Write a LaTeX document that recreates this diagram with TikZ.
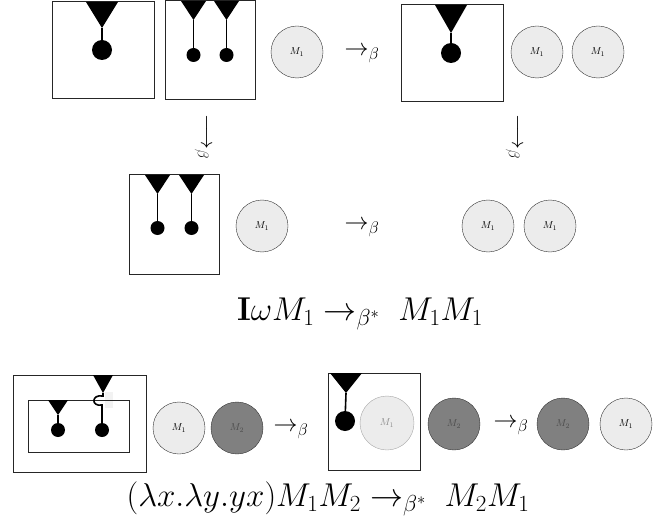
\RequirePackage{fix-cm}
\documentclass[tikz,border=0pt]{standalone}
\usepackage{amsmath,amssymb}
\usetikzlibrary{positioning,calc,arrows.meta}
\definecolor{termfill}{HTML}{ECECEC}
\definecolor{argfill}{HTML}{808080}
\begin{document}
\begin{tikzpicture}[x=1pt, y=-1pt,
  every node/.style={align=center, inner sep=0pt},
  frame/.style={rectangle, draw=black!85, line width=1pt},
  bigball/.style={circle, fill=black, minimum size=20pt},
  smallball/.style={circle, fill=black, minimum size=14pt},
  stem/.style={line width=1.6pt},
  term/.style={circle, draw=black!80, fill=termfill, minimum size=52pt, font=\fontsize{10}{12}\selectfont},
  darkterm/.style={term, fill=argfill, text=black!70},
  fadedterm/.style={term, draw=black!35, text=black!45},
  betastep/.style={font=\fontsize{24}{28}\selectfont},
  downstep/.style={font=\fontsize{22}{26}\selectfont, rotate=-90},
  formula/.style={font=\fontsize{33}{38}\selectfont}
]
\useasboundingbox (0,0) rectangle (660,529);
% Top row: I, omega, M1 -> beta
\node[frame, minimum width=102pt, minimum height=97pt] (boxI) at (103,50.5) {};
\fill (86,2) -- (118,2) -- (102,28) coordinate (tipI) -- cycle;
\node[bigball] (ballI) at (102,50) {};
\draw[stem] (tipI) -- (ballI);
\node[frame, minimum width=90pt, minimum height=99pt] (boxW) at (210,50.5) {};
\fill (181,1) -- (206,1) -- (193.5,20) coordinate (tipWa) -- cycle;
\fill (214,1) -- (239,1) -- (226.5,20) coordinate (tipWb) -- cycle;
\node[smallball] (ballWa) at (193.5,55) {};
\node[smallball] (ballWb) at (226.5,55) {};
\draw[stem] (tipWa) -- (ballWa);
\draw[stem] (tipWb) -- (ballWb);
\node[term] (mA) at (297,52) {$M_1$};
\node[betastep] (stepA) at (362,55) {$\rightarrow_\beta$};
\node[frame, minimum width=102pt, minimum height=97pt] (boxIr) at (452,53.5) {};
\fill (435,5) -- (467,5) -- (451,33) coordinate (tipIr) -- cycle;
\node[bigball] (ballIr) at (451,53) {};
\draw[stem] (tipIr) -- (ballIr);
\node[term] (mB) at (537,52) {$M_1$};
\node[term] (mC) at (598,52) {$M_1$};
% Down steps
\node[downstep] (downL) at (202,137) {$\longrightarrow_\beta$};
\node[downstep] (downR) at (513,137) {$\longrightarrow_\beta$};
% Middle row
\node[frame, minimum width=90pt, minimum height=99pt] (boxWm) at (174,224.5) {};
\fill (145,175) -- (170,175) -- (157.5,194) coordinate (tipMa) -- cycle;
\fill (179,175) -- (204,175) -- (191.5,194) coordinate (tipMb) -- cycle;
\node[smallball] (ballMa) at (157.5,228) {};
\node[smallball] (ballMb) at (191.5,228) {};
\draw[stem] (tipMa) -- (ballMa);
\draw[stem] (tipMb) -- (ballMb);
\node[term] (mD) at (262,226) {$M_1$};
\node[betastep] (stepM) at (362,229) {$\rightarrow_\beta$};
\node[term] (mE) at (488,226) {$M_1$};
\node[term] (mF) at (550,226) {$M_1$};
\node[formula] (eqI) at (360,314) {$\mathbf{I}\omega M_1 \rightarrow_{\beta^*}\; M_1M_1$};
% Bottom row: (lambda x. lambda y. y x) M1 M2
\fill[black!5] (105,392) rectangle (113,408);
\node[frame, minimum width=133pt, minimum height=97pt] (boxK) at (79.5,423.5) {};
\node[frame, minimum width=101pt, minimum height=52pt] (boxKin) at (78.5,426) {};
\fill (48,400) -- (68,400) -- (58,415) coordinate (tipKa) -- cycle;
\fill (93,375) -- (113,375) -- (103,393) coordinate (tipKb) -- cycle;
\node[smallball] (ballKa) at (58,430) {};
\node[smallball] (ballKb) at (102,430) {};
\draw[stem] (tipKa) -- (ballKa);
\draw[stem] (tipKb) -- ++(0,3) .. controls (91,394) and (91,407) .. (102,405) -- (ballKb);
\node[term] (mG) at (179,428) {$M_1$};
\node[darkterm] (nG) at (237,428) {$M_2$};
\node[betastep] (stepK) at (291,431) {$\rightarrow_\beta$};
\node[frame, minimum width=92pt, minimum height=97pt] (boxL) at (374,421.5) {};
\fill (330,373) -- (362,373) -- (346,393) coordinate (tipL) -- cycle;
\node[bigball] (ballL) at (345,421) {};
\draw[stem] (tipL) -- (ballL);
\node[fadedterm, minimum size=54pt] (mH) at (387,423) {$M_1$};
\node[darkterm] (nH) at (454,424) {$M_2$};
\node[betastep] (stepL) at (511,427) {$\rightarrow_\beta$};
\node[darkterm] (nJ) at (563,424) {$M_2$};
\node[term] (mJ) at (626,424) {$M_1$};
\node[formula] (eqK) at (328,499) {$(\lambda x.\lambda y.yx)M_1M_2 \rightarrow_{\beta^*}\; M_2M_1$};
\end{tikzpicture}
\end{document}
